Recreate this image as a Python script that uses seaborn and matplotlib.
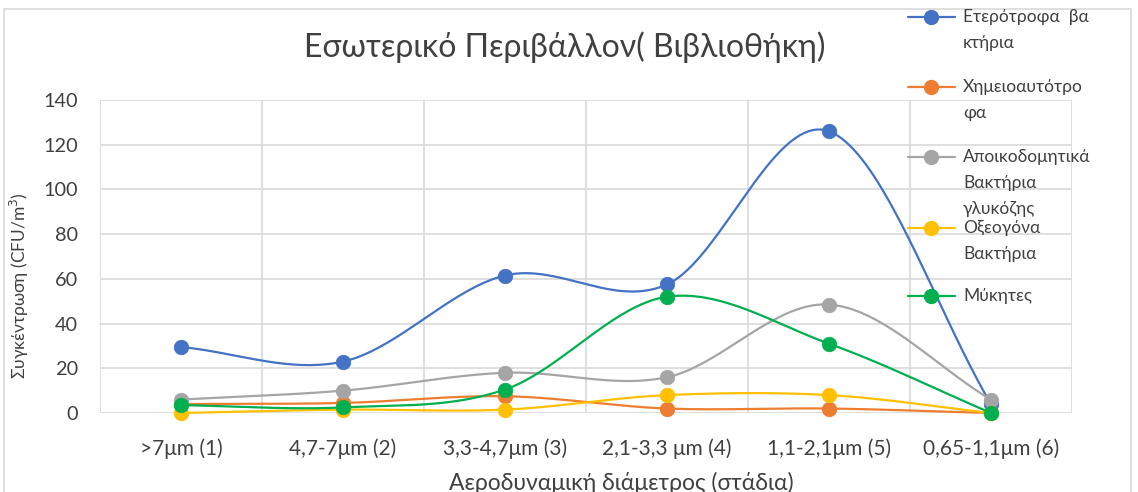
import numpy as np
import pandas as pd
import matplotlib
matplotlib.use("Agg")
import matplotlib.pyplot as plt
from matplotlib.lines import Line2D
from matplotlib.patches import Rectangle
import seaborn as sns

# ---- data ----
stages = [">7μm (1)", "4,7-7μm (2)", "3,3-4,7μm (3)", "2,1-3,3 μm (4)",
          "1,1-2,1μm (5)", "0,65-1,1μm (6)"]
heterotrophs = [29.5, 23, 61.5, 57.5, 126, 4]
chemoautotrophs = [4, 4.5, 7.5, 2, 2, 0]
glucose_decomposers = [6, 10, 18, 16, 48.5, 6]
acidogenic = [0, 1.5, 1.5, 8, 8, 0]
fungi = [3.5, 2.5, 10.5, 52, 31, 0]

series_names = ["Ετερότροφα  βα\nκτήρια", "Χημειοαυτότρο\nφα",
                "Αποικοδομητικά\nΒακτήρια\nγλυκόζης", "Οξεογόνα\nΒακτήρια",
                "Μύκητες"]
series_values = [heterotrophs, chemoautotrophs, glucose_decomposers, acidogenic, fungi]
colors = ["#4472C4", "#ED7D31", "#A5A5A5", "#FFC000", "#00B050"]
title = "Εσωτερικό Περιβάλλον( Βιβλιοθήκη)"
xlabel = "Αεροδυναμική διάμετρος (στάδια)"
ylabel = "Συγκέντρωση (CFU/m$^3$)"
yticks = [0, 20, 40, 60, 80, 100, 120, 140]

W, H = 1138, 492
TEXT = "#404040"
FONT = "Lato"

sns.set_theme(style="white")
plt.rcParams["font.family"] = [FONT, "DejaVu Sans"]


def smooth(xs, ys, n=40):
    """Catmull-Rom style curve through the given points (display smoothing)."""
    xs = np.asarray(xs, float)
    ys = np.asarray(ys, float)
    px = np.concatenate([[2 * xs[0] - xs[1]], xs, [2 * xs[-1] - xs[-2]]])
    py = np.concatenate([[2 * ys[0] - ys[1]], ys, [2 * ys[-1] - ys[-2]]])
    out_x, out_y = [], []
    for i in range(1, len(px) - 2):
        p0, p1, p2, p3 = (np.array([px[j], py[j]]) for j in range(i - 1, i + 3))
        c1 = p1 + (p2 - p0) / 6.0
        c2 = p2 - (p3 - p1) / 6.0
        t = np.linspace(0, 1, n)[:, None]
        b = ((1 - t) ** 3) * p1 + 3 * ((1 - t) ** 2) * t * c1 + 3 * (1 - t) * t ** 2 * c2 + t ** 3 * p2
        out_x.extend(b[:, 0])
        out_y.extend(b[:, 1])
    return np.array(out_x), np.array(out_y)


fig = plt.figure(figsize=(W / 100, H / 100), dpi=100)
ax = fig.add_axes([100 / W, 1 - 413 / H, (1072 - 100) / W, (413 - 100) / H])

xpos = np.arange(len(stages))
for name, vals, col in zip(series_names, series_values, colors):
    cx, cy = smooth(xpos, vals)
    curve = pd.DataFrame({"x": cx, "y": cy})
    sns.lineplot(data=curve, x="x", y="y", sort=False, estimator=None, ax=ax,
                 color=col, linewidth=1.6, clip_on=False)
    pts = pd.DataFrame({"x": xpos, "y": vals})
    sns.scatterplot(data=pts, x="x", y="y", ax=ax, color=col, s=110,
                    edgecolor=col, linewidth=0.5, clip_on=False, zorder=3)

ax.set_xlim(-0.5, len(stages) - 0.5)
ax.set_ylim(0, 140)
ax.set_yticks(yticks)
ax.set_yticklabels([str(v) for v in yticks])
ax.set_xticks(xpos)
ax.set_xticklabels(stages)
ax.set_xticks(np.arange(len(stages) + 1) - 0.5, minor=True)
ax.grid(True, axis="y", color="#D9D9D9", linewidth=1.2)
ax.grid(True, axis="x", which="minor", color="#D9D9D9", linewidth=1.2)
ax.grid(False, axis="x", which="major")
ax.tick_params(axis="x", which="major", length=0, pad=18, labelsize=15, colors=TEXT)
ax.tick_params(axis="x", which="minor", length=10, width=1.2, color="#D9D9D9", direction="out")
ax.tick_params(axis="y", length=0, pad=16, labelsize=14.3, colors=TEXT)
for s in ax.spines.values():
    s.set_visible(False)
ax.set_xlabel(xlabel, fontsize=16.5, color=TEXT)
ax.xaxis.set_label_coords(0.536, -0.187)
ax.set_ylabel(ylabel, fontsize=12.5, color=TEXT)
ax.yaxis.set_label_coords(-0.071, 0.406)
ax.set_axisbelow(True)


def fx(x):
    return x / W


def fy(y):
    return 1 - y / H


fig.text(fx(565), fy(47), title, fontsize=23, color=TEXT, ha="center", va="center")

# legend drawn at the right of the chart area
row_y = [17, 87, 157, 228, 296]
for name, col, yy in zip(series_names, colors, row_y):
    fig.add_artist(Line2D([fx(908), fx(955)], [fy(yy), fy(yy)], color=col, linewidth=1.6,
                          transform=fig.transFigure))
    fig.add_artist(Line2D([fx(931.5)], [fy(yy)], color=col, marker="o", markersize=10,
                          linestyle="none", transform=fig.transFigure))
    for k, line in enumerate(name.split("\n")):
        fig.text(fx(963), fy(yy + 26 * k), line, fontsize=12.5, color=TEXT,
                 ha="left", va="center")

fig.add_artist(Rectangle((fx(4), fy(500)), fx(1127), fy(9) - fy(500), fill=False,
                         edgecolor="#D9D9D9", linewidth=1.2, transform=fig.transFigure))

fig.savefig("out.png", dpi=100, facecolor="white")
